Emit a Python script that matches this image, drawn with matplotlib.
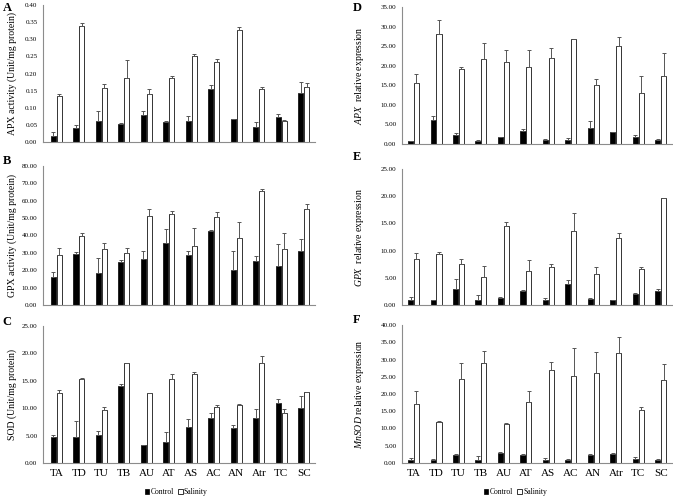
import matplotlib
matplotlib.use('Agg')
import matplotlib.pyplot as plt
import numpy as np

plt.rcParams['font.family'] = ['Liberation Serif', 'DejaVu Serif']
plt.rcParams['mathtext.fontset'] = 'custom'
plt.rcParams['mathtext.it'] = 'Liberation Serif:italic'
plt.rcParams['mathtext.rm'] = 'Liberation Serif'

# categories
lines = ['TA', 'TD', 'TU', 'TB', 'AU', 'AT', 'AS', 'AC', 'AN', 'Atr', 'TC', 'SC']

# A: APX activity
apx_ctrl = [0.017, 0.040, 0.060, 0.053, 0.080, 0.057, 0.060, 0.155, 0.066, 0.045, 0.073, 0.143]
apx_ctrl_err = [0.012, 0.010, 0.030, 0.003, 0.010, 0.003, 0.015, 0.010, 0.002, 0.012, 0.008, 0.031]
apx_salt = [0.135, 0.340, 0.158, 0.188, 0.141, 0.188, 0.250, 0.235, 0.328, 0.155, 0.060, 0.160]
apx_salt_err = [0.006, 0.007, 0.011, 0.050, 0.015, 0.005, 0.008, 0.006, 0.007, 0.005, 0.005, 0.012]

# B: GPX activity
gpx_ctrl = [16.0, 29.5, 18.5, 25.0, 26.5, 35.5, 29.0, 42.5, 20.0, 25.5, 22.5, 31.0]
gpx_ctrl_err = [3.0, 1.0, 8.5, 1.0, 4.5, 8.0, 2.0, 0.6, 10.8, 2.8, 12.5, 7.0]
gpx_salt = [29.0, 39.5, 32.5, 30.0, 51.5, 52.5, 34.0, 50.5, 38.5, 65.5, 32.0, 55.5]
gpx_salt_err = [4.0, 2.0, 3.0, 3.0, 3.8, 1.8, 10.5, 3.2, 9.0, 1.5, 9.2, 2.8]

# C: SOD activity
sod_ctrl = [4.7, 4.7, 5.1, 14.0, 3.3, 3.8, 6.5, 8.3, 6.3, 8.3, 10.9, 10.0]
sod_ctrl_err = [0.4, 3.0, 0.8, 0.4, 0.0, 1.9, 1.6, 0.9, 0.7, 1.6, 0.8, 2.2]
sod_salt = [12.7, 15.4, 9.7, 18.3, 12.7, 15.3, 16.3, 10.3, 10.6, 18.3, 9.1, 13.0]
sod_salt_err = [0.6, 0.05, 0.5, 0.0, 0.0, 0.9, 0.3, 0.2, 0.1, 1.3, 0.8, 0.0]

# D: APX expression
apx_exp_ctrl = [0.8, 6.2, 2.2, 0.8, 1.7, 3.4, 0.9, 1.1, 4.0, 3.0, 1.7, 1.1]
apx_exp_ctrl_err = [0.05, 1.0, 0.5, 0.3, 0.1, 0.4, 0.5, 0.4, 2.0, 0.1, 0.6, 0.1]
apx_exp_salt = [15.5, 28.2, 19.2, 21.8, 20.9, 19.6, 21.9, 26.7, 15.0, 25.1, 13.0, 17.3]
apx_exp_salt_err = [2.3, 3.5, 0.5, 4.0, 3.0, 4.3, 2.5, 0.2, 1.5, 2.3, 4.4, 6.0]

# E: GPX expression
gpx_exp_ctrl = [1.0, 1.0, 3.0, 1.0, 1.2, 2.6, 0.9, 3.9, 1.1, 0.9, 2.0, 2.6]
gpx_exp_ctrl_err = [0.5, 0.0, 1.8, 0.9, 0.3, 0.2, 0.3, 0.7, 0.1, 0.0, 0.2, 0.3]
gpx_exp_salt = [8.5, 9.3, 7.6, 5.2, 14.5, 6.2, 6.9, 13.6, 5.7, 12.4, 6.7, 19.6]
gpx_exp_salt_err = [1.0, 0.5, 0.9, 1.9, 0.8, 2.1, 0.6, 3.3, 1.2, 0.9, 0.3, 0.1]

# F: MnSOD expression
sod_exp_ctrl = [1.0, 1.0, 2.4, 1.0, 2.8, 2.2, 0.8, 0.8, 2.2, 2.5, 1.3, 0.8]
sod_exp_ctrl_err = [0.5, 0.1, 0.3, 1.0, 0.4, 0.4, 0.6, 0.3, 0.4, 0.4, 0.4, 0.3]
sod_exp_salt = [17.2, 12.0, 24.3, 29.0, 11.4, 17.8, 27.0, 25.2, 26.0, 31.8, 15.5, 24.0]
sod_exp_salt_err = [3.6, 0.2, 4.7, 3.5, 0.2, 3.1, 2.4, 8.0, 6.3, 4.8, 0.7, 4.7]

W, H = 673, 499
fig = plt.figure(figsize=(W / 100, H / 100), dpi=100)

def px_axes(x0, x1, ytop, ybot):
    # build axes from pixel box of the reference
    return fig.add_axes([x0 / W, 1 - ybot / H, (x1 - x0) / W, (ybot - ytop) / H])

panels = [
    # axes box, letter pos, ctrl, ctrl err, salt, salt err, ymax, step, ylabel
    ((43, 315, 5, 142), (7, 8, 'A'), apx_ctrl, apx_ctrl_err, apx_salt, apx_salt_err, 0.40, 0.05,
     'APX activity (Unit/mg protein)'),
    ((43, 315, 166, 305), (7, 161, 'B'), gpx_ctrl, gpx_ctrl_err, gpx_salt, gpx_salt_err, 80, 10,
     'GPX activity (Unit/mg protein)'),
    ((43, 315, 326, 463), (7, 322, 'C'), sod_ctrl, sod_ctrl_err, sod_salt, sod_salt_err, 25, 5,
     'SOD (Unit/mg protein)'),
    ((402, 672, 7, 144), (357, 8, 'D'), apx_exp_ctrl, apx_exp_ctrl_err, apx_exp_salt, apx_exp_salt_err, 35, 5,
     r'$\mathit{APX}$  relative expression'),
    ((402, 672, 169, 305), (357, 157, 'E'), gpx_exp_ctrl, gpx_exp_ctrl_err, gpx_exp_salt, gpx_exp_salt_err, 25, 5,
     r'$\mathit{GPX}$  relative expression'),
    ((402, 672, 325, 463), (357, 320, 'F'), sod_exp_ctrl, sod_exp_ctrl_err, sod_exp_salt, sod_exp_salt_err, 40, 5,
     r'$\mathit{MnSOD}$ relative expression'),
]

x = np.arange(len(lines))
bw = 0.23
grey = '#8c8c8c'
ekw = dict(ecolor='#555555', elinewidth=0.7, capsize=1.5, capthick=0.7)

for i, (box, letter, c, ce, s, se, ymax, step, ylab) in enumerate(panels):
    ax = px_axes(*box)
    zeros = np.zeros(len(lines))
    ax.bar(x - 0.135, c, bw, color='black', edgecolor='black', linewidth=0.5, label='Control',
           yerr=[zeros, ce], error_kw=ekw)
    ax.bar(x + 0.125, s, bw, color='white', edgecolor='#333333', linewidth=0.7, label='Salinity',
           yerr=[zeros, se], error_kw=ekw)
    ax.set_ylim(0, ymax)
    ax.set_yticks(np.arange(0, ymax + step / 2, step))
    ax.yaxis.set_major_formatter(matplotlib.ticker.FormatStrFormatter('%.2f'))
    ax.set_xlim(-0.6 if i < 3 else -0.52, 11.5)
    ax.tick_params(axis='y', length=0, labelsize=5, pad=4)
    ax.tick_params(axis='x', length=0, labelsize=8, pad=4)
    for side in ['top', 'right']:
        ax.spines[side].set_visible(False)
    for side in ['left', 'bottom']:
        ax.spines[side].set_color(grey)
        ax.spines[side].set_linewidth(0.8)
    ax.set_ylabel(ylab, fontsize=7)
    if i < 3:
        ax.yaxis.set_label_coords(-0.097, 0.5)
    else:
        ax.yaxis.set_label_coords(-0.133, 0.5)
    ax.set_xticks(x)
    if i in (2, 5):
        ax.set_xticklabels(lines)
        cx = 0.49 if i == 2 else 0.42
        ax.legend(loc='center', bbox_to_anchor=(cx, -0.21), ncol=2, frameon=False, fontsize=5.5,
                  handlelength=0.6, handleheight=0.6, handletextpad=0.15, columnspacing=0.6,
                  borderpad=0)
    else:
        ax.set_xticklabels([])
    lx, ly, lt = letter
    fig.text(lx / W, 1 - ly / H, lt, fontsize=9, fontweight='bold', ha='center', va='center')

fig.savefig('out.png', dpi=100)
